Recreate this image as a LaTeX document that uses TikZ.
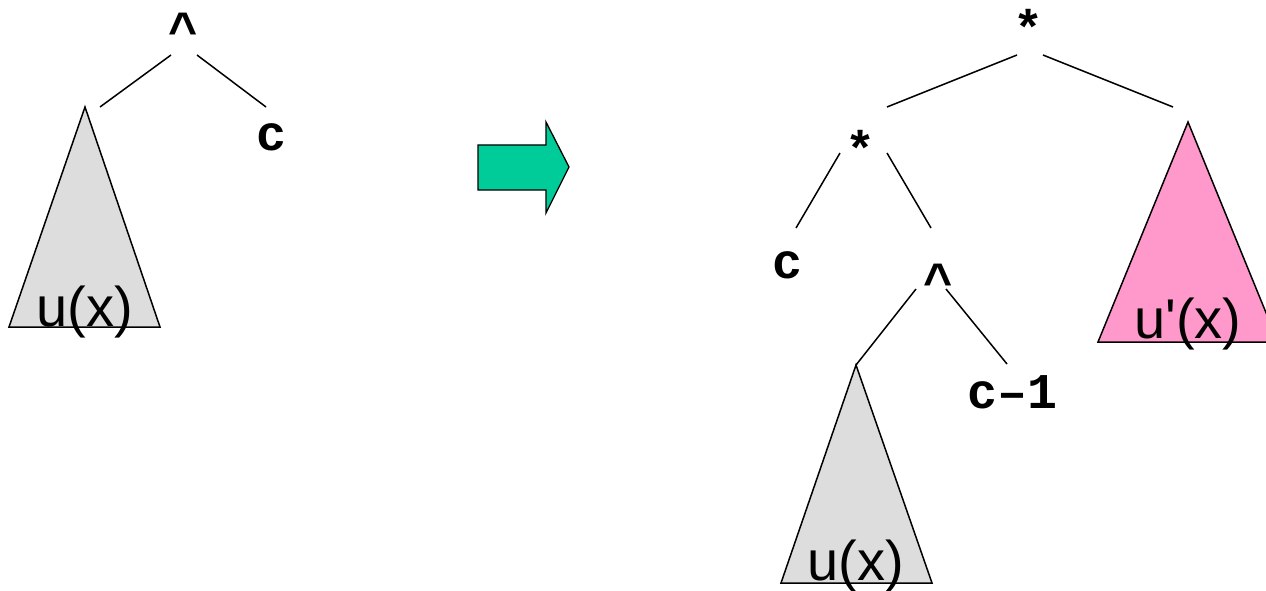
\documentclass[tikz,border=0pt]{standalone}
\usepackage{fontspec}
\setmainfont{Liberation Sans}
\newfontfamily\opfont{Liberation Mono}
\definecolor{subgray}{HTML}{DDDDDD}
\definecolor{subpink}{HTML}{FF99CC}
\definecolor{arrowgreen}{HTML}{00CC99}
\begin{document}
\begin{tikzpicture}[x=1pt,y=-1pt,
  op/.style={font=\opfont\bfseries\fontsize{50}{60}\selectfont, anchor=base, inner sep=0pt},
  lbl/.style={font=\fontsize{56}{66}\selectfont, anchor=base, inner sep=0pt},
  edge/.style={line width=1.5pt},
  tri/.style={draw=black, line width=1.5pt, line join=miter}]
\useasboundingbox (0,0) rectangle (1266,591);
\clip (0,0) rectangle (1266,591);

% ---------- left tree ----------
\coordinate (lapex) at (85,107);
\path[tri, fill=subgray] (lapex) -- (160,327) -- (9,327) -- cycle;
\node[lbl] (lux) at (85,326) {u(x)};
\node[op] (lcaret) at (184,48) {\textasciicircum};
\node[op] (lc) at (271,150) {c};
\coordinate (l1a) at (171,55); \coordinate (l1b) at (100,107);
\coordinate (l2a) at (197,55); \coordinate (l2b) at (266,107);
\draw[edge] (l1a) -- (l1b);
\draw[edge] (l2a) -- (l2b);

% ---------- arrow ----------
\path[draw=black, line width=1.3pt, fill=arrowgreen]
  (478,145) -- (546,145) -- (546,122) -- (569,167) -- (546,213) -- (546,190) -- (478,190) -- cycle;

% ---------- right tree ----------
\node[op] (rstar) at (1028,46) {*};
\node[op] (mstar) at (860,166) {*};
\node[op] (rc) at (787,278) {c};
\node[op] (rcaret) at (938,298) {\textasciicircum};
\node[op] (cm1) at (1012,408) {c\textendash1};

\coordinate (rapex) at (856,365);
\path[tri, fill=subgray] (rapex) -- (932,583) -- (781,583) -- cycle;
\node[lbl] (rux) at (856,580) {u(x)};

\coordinate (papex) at (1188,122);
\path[tri, fill=subpink] (papex) -- (1278,342) -- (1098,342) -- cycle;
\node[lbl] (pux) at (1188,338) {u\textquotesingle(x)};

\coordinate (r1a) at (1017,55); \coordinate (r1b) at (887,107);
\coordinate (r2a) at (1043,55); \coordinate (r2b) at (1173,107);
\coordinate (r3a) at (840,153); \coordinate (r3b) at (796,228);
\coordinate (r4a) at (887,153); \coordinate (r4b) at (931,228);
\coordinate (r5a) at (916,289);
\coordinate (r6a) at (946,289); \coordinate (r6b) at (1007,364);
\draw[edge] (r1a) -- (r1b);
\draw[edge] (r2a) -- (r2b);
\draw[edge] (r3a) -- (r3b);
\draw[edge] (r4a) -- (r4b);
\draw[edge] (r5a) -- (rapex);
\draw[edge] (r6a) -- (r6b);
\end{tikzpicture}
\end{document}
